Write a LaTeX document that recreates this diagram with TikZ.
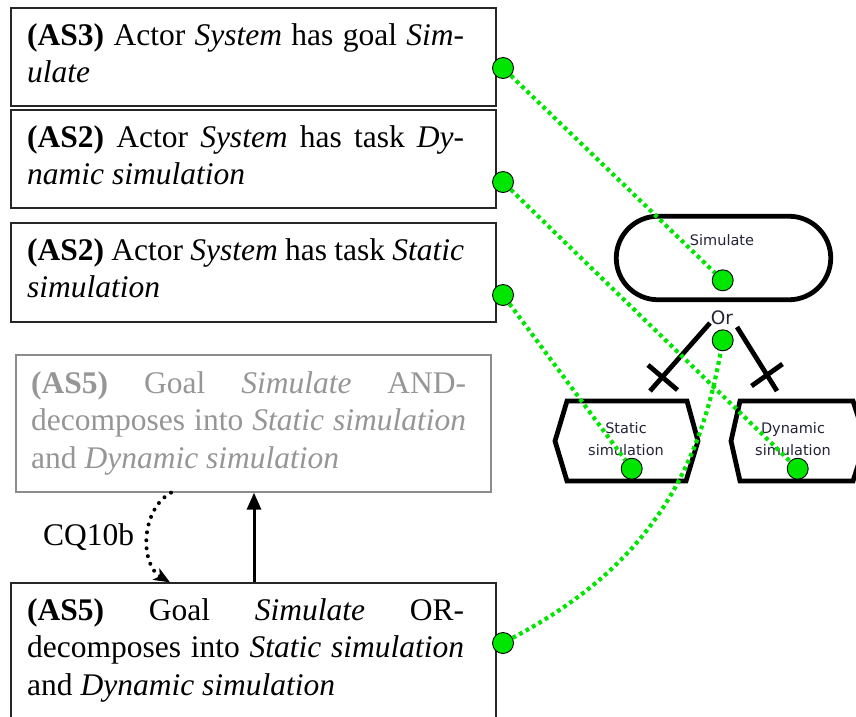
\documentclass[tikz,border=0pt]{standalone}
\usepackage{fontspec}
\setmainfont{Liberation Serif}
\newfontfamily\dvsans{DejaVu Sans}
\usetikzlibrary{arrows.meta,shapes.misc}
\definecolor{ggreen}{RGB}{0,230,0}
\definecolor{boxgray}{RGB}{140,140,140}
\definecolor{txtgray}{RGB}{150,150,150}
\definecolor{istext}{RGB}{35,35,55}
\begin{document}
\begin{tikzpicture}[x=1pt,y=-1pt,
  sbox/.style={draw=black!85, line width=1.3pt, minimum width=485pt, inner sep=0pt},
  gbox/.style={draw=boxgray, line width=1.3pt, inner sep=0pt},
  ptext/.style={anchor=base west, inner sep=0pt, font=\fontsize{31.5}{37.5}\selectfont},
  gdot/.style={circle, draw=black, line width=0.9pt, fill=ggreen, minimum size=21pt, inner sep=0pt},
  gline/.style={draw=ggreen, line width=4.2pt, dash pattern=on 3.8pt off 3.6pt},
  goalshape/.style={rounded rectangle, draw, line width=4.8pt, minimum width=214.5pt, minimum height=83.5pt, inner sep=0pt},
  taskshape/.style={draw, line width=4.8pt, line join=miter},
  istar/.style={text=istext, inner sep=0pt, align=center, font=\dvsans\fontsize{14.5}{21.5}\selectfont},
  orlink/.style={line width=4.8pt},
  dotarrow/.style={line width=4pt, dash pattern=on 0pt off 8pt, line cap=round, -{Stealth[length=16pt,width=13pt,inset=4pt]}},
  solidarrow/.style={line width=3pt, -{Triangle[length=17pt,width=14pt]}},
]
\useasboundingbox (0,0) rectangle (856,716);
\clip (0,0) rectangle (856,716);

% left statement boxes
\node[sbox, minimum height=98pt] (b1) at (253.5,57) {};
\node[ptext] (t1) at (27,45) {\parbox[t]{437pt}{\makebox[437pt][s]{\textbf{(AS3)} Actor \textit{System} has goal \textit{Sim-}}\\\textit{ulate}}};

\node[sbox, minimum height=98pt] (b2) at (253.5,159) {};
\node[ptext] (t2) at (27,147) {\parbox[t]{437pt}{\makebox[437pt][s]{\textbf{(AS2)} Actor \textit{System} has task \textit{Dy-}}\\\textit{namic simulation}}};

\node[sbox, minimum height=99pt] (b3) at (253.5,272.5) {};
\node[ptext] (t3) at (27,260) {\parbox[t]{437pt}{\makebox[437pt][s]{\textbf{(AS2)} Actor \textit{System} has task \textit{Static}}\\\textit{simulation}}};

\node[gbox, minimum width=475pt, minimum height=137pt] (gray) at (253.5,423.5) {};
\node[ptext, text=txtgray] (tg) at (31,393) {\parbox[t]{435pt}{\makebox[435pt][s]{\textbf{(AS5)} Goal \textit{Simulate} AND-}\\\makebox[435pt][s]{decomposes into \textit{Static simulation}}\\and \textit{Dynamic simulation}}};

\node[sbox, minimum height=157pt] (bot) at (253.5,661.5) {};
\node[ptext] (tb) at (27,620) {\parbox[t]{437pt}{\makebox[437pt][s]{\textbf{(AS5)} Goal \textit{Simulate} OR-}\\\makebox[437pt][s]{decomposes into \textit{Static simulation}}\\and \textit{Dynamic simulation}}};

% arrows between AS5 boxes
\draw[dotarrow] ([xshift=-82.5pt]gray.south) to[bend right=60] ([xshift=-83.5pt]bot.north);
\draw[solidarrow] ([xshift=0.5pt]bot.north) -- ([xshift=0.5pt]gray.south);
\node[ptext] (cq) at (43,545) {CQ10b};

% iStar model
\node[goalshape] (gsim) at (723.5,258) {};
\node[istar] (lsim) at (722,240) {Simulate};
\node[istar, font=\dvsans\fontsize{18.5}{20}\selectfont] (lor) at (722,318) {Or};

\draw[taskshape] (555,441) -- (567,401) -- (687,401) -- (698,441) -- (686,481) -- (567,481) -- cycle;
\node[istar] (lstat) at (626,439) {Static\\simulation};
\draw[taskshape] (731,441) -- (740,401) -- (853,401) -- (866,441) -- (853,481) -- (740,481) -- cycle;
\node[istar] (ldyn) at (793,439) {Dynamic\\simulation};

% or-decomposition links
\draw[orlink] (710,323) -- (650,391);
\draw[orlink] (648,365) -- (677.5,390);
\draw[orlink] (737,327) -- (777,391);
\draw[orlink] (751.5,386) -- (782.5,364);

% green markers
\node[gdot] (g1) at (503,68) {};
\node[gdot] (g2) at (503,182) {};
\node[gdot] (g3) at (503,295) {};
\node[gdot] (g4) at (503,643) {};
\node[gdot] (gs) at (722.7,280.3) {};
\node[gdot] (go) at (722.7,340.3) {};
\node[gdot] (gst) at (631.7,468.7) {};
\node[gdot] (gdy) at (797.7,468.7) {};

\draw[gline] (g1) -- (gs);
\draw[gline] (g2) -- (gdy);
\draw[gline] (g3) -- (gst);
\draw[gline] (g4) to[out=28,in=-100] (go);
\end{tikzpicture}
\end{document}
